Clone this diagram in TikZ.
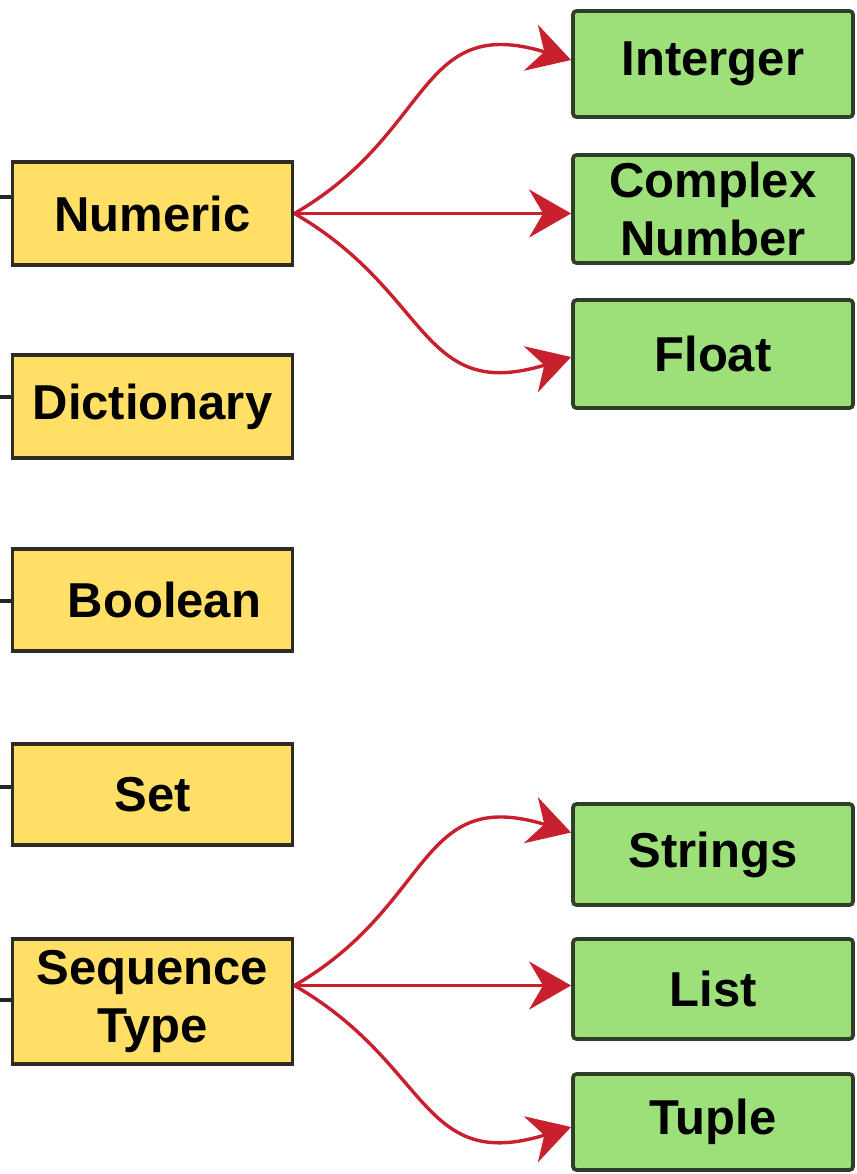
\documentclass[tikz,border=0pt]{standalone}
\usepackage{fontspec}
\setmainfont{Liberation Sans}
\usetikzlibrary{arrows.meta}
\definecolor{yfill}{HTML}{FFDF66}
\definecolor{ydraw}{HTML}{2E2B22}
\definecolor{gfill}{HTML}{9DE07A}
\definecolor{gdraw}{HTML}{2F3D29}
\definecolor{linkred}{HTML}{C8202D}
\begin{document}
\begin{tikzpicture}[x=0.5pt,y=0.5pt,
  ybox/.style={draw=ydraw, fill=yfill, line width=1.9pt, minimum width=140pt,
    inner sep=0pt, align=center, font=\fontsize{24.5}{29}\selectfont\bfseries},
  gbox/.style={draw=gdraw, fill=gfill, line width=1.9pt, minimum width=140pt,
    rounded corners=1.8pt, inner sep=0pt, align=center,
    font=\fontsize{24.5}{29}\selectfont\bfseries},
  link/.style={draw=linkred, line width=1.7pt,
    -{Stealth[length=21pt,width=24pt,inset=7pt]}},
  curvy/.style={looseness=1.3},
  stub/.style={draw=black!85, line width=1.7pt}]
\useasboundingbox (0,0) rectangle (857,-1174);

% yellow boxes
\node[ybox, minimum height=51.5pt] (num) at (152.5,-213.5) {Numeric};
\node[ybox, minimum height=51.5pt] (dic) at (152.5,-406.5) {Dictionary};
\node[ybox, minimum height=51pt]   (boo) at (152.5,-600)   {\hspace*{12pt}Boolean};
\node[ybox, minimum height=50.5pt] (set) at (152.5,-794.5) {Set};
\node[ybox, minimum height=62.5pt] (seq) at (152.5,-1001.5) {Sequence\\Type};

% green boxes
\node[gbox, minimum height=53pt]   (int) at (713,-64)    {\raisebox{2.5pt}{Interger}};
\node[gbox, minimum height=54pt]   (cpx) at (713,-209)   {Complex\\Number};
\node[gbox, minimum height=54pt]   (flt) at (713,-354)   {Float};
\node[gbox, minimum height=50.5pt] (str) at (713,-854.5) {Strings};
\node[gbox, minimum height=50pt]   (lst) at (713,-989)   {List};
\node[gbox, minimum height=48pt]   (tup) at (713,-1122)  {Tuple};

% cut connector stubs at the left edge
\coordinate (s1) at (0,-197);
\coordinate (s2) at (0,-397);
\coordinate (s3) at (0,-601);
\coordinate (s4) at (0,-787);
\coordinate (s5) at (0,-1000);
\draw[stub] (s1) -- (num.west |- s1);
\draw[stub] (s2) -- (dic.west |- s2);
\draw[stub] (s3) -- (boo.west |- s3);
\draw[stub] (s4) -- (set.west |- s4);
\draw[stub] (s5) -- (seq.west |- s5);

% Numeric children
\coordinate (nout) at (num.east);
\draw[link, curvy] (nout) to[out=30, in=163] ([yshift=2pt]int.west);
\draw[link] (nout) -- (cpx.west |- nout);
\draw[link, curvy] (nout) to[out=-30, in=197] ([yshift=-1.5pt]flt.west);

% Sequence children
\coordinate (sout) at ([yshift=8pt]seq.east);
\draw[link, curvy] (sout) to[out=30, in=163] ([yshift=11pt]str.west);
\draw[link] (sout) -- (lst.west |- sout);
\draw[link, curvy] (sout) to[out=-30, in=197] ([yshift=-2.5pt]tup.west);
\end{tikzpicture}
\end{document}
